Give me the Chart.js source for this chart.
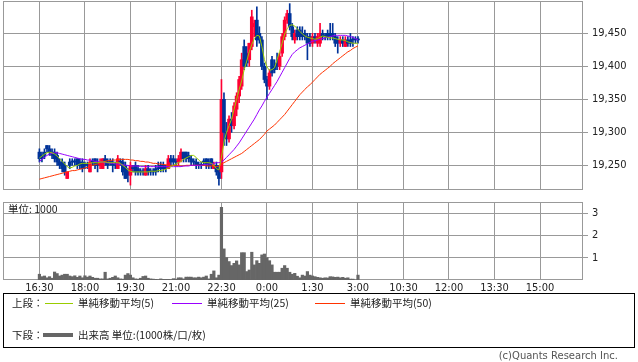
<!DOCTYPE html>
<html>
<head>
<meta charset="utf-8">
<script src="https://cdn.jsdelivr.net/npm/chart.js@4/dist/chart.umd.min.js"></script>
<style>
  body { margin: 0; width: 638px; height: 362px; overflow: hidden; background: #fff; position: relative;
         font-family: 'Noto Sans CJK JP', sans-serif; }
  canvas { position: absolute; left: 0; }
  #main { top: 0; }
  #vol { top: 195px; }
  .t { position: absolute; font-size: 10.5px; line-height: 12px; color: #222; white-space: nowrap; }
  .ln { position: absolute; height: 1px; }
  #box { position: absolute; left: 3px; top: 293px; width: 630px; height: 53px; border: 1px solid #000; }
  #copy { position: absolute; right: 20px; top: 350px; font-family: 'DejaVu Sans', sans-serif; font-size: 10px; color: #555; }
</style>
</head>
<body>
<canvas id="main" width="638" height="192"></canvas>
<canvas id="vol" width="638" height="100"></canvas>

<div class="t" style="left:8px;top:203px">単位: 1000</div>

<div id="box"></div>
<div class="t" style="left:12px;top:297px">上段：</div>
<div class="ln" style="left:45px;top:303px;width:28px;background:#99cc00"></div>
<div class="t" style="left:78px;top:297px">単純移動平均(5)</div>
<div class="ln" style="left:172px;top:303px;width:30px;background:#9900ff"></div>
<div class="t" style="left:207px;top:297px">単純移動平均(25)</div>
<div class="ln" style="left:315px;top:303px;width:30px;background:#ff3300"></div>
<div class="t" style="left:350px;top:297px">単純移動平均(50)</div>
<div class="t" style="left:12px;top:329px">下段：</div>
<div class="ln" style="left:43px;top:333px;width:30px;height:4px;background:#666"></div>
<div class="t" style="left:78px;top:329px">出来高 単位:(1000株/口/枚)</div>
<div id="copy">(c)Quants Research Inc.</div>

<script>
// 5-minute bars, slot 0 = 16:30 ... slot 126 = 3:00
const tickSlots = [0, 18, 36, 54, 72, 90, 108, 126, 144, 162, 180, 198];
const tickLabels = ['16:30', '18:00', '19:30', '21:00', '22:30', '0:00', '1:30', '3:00', '10:30', '12:00', '13:30', '15:00'];
const priceTicks = [19250, 19300, 19350, 19400, 19450];
const volTicks = [1, 2, 3];

const opens = [
  19270,19265,19270,19280,19275,19270,19270,19265,19255,19255,
  19250,19230,19255,19255,19255,19260,19255,19255,19250,19250,
  19240,19255,19260,19255,19250,19245,19260,19255,19255,19255,
  19250,19245,19255,19255,19250,19240,19235,19245,19250,19245,
  19240,19240,19235,19245,19240,19240,19245,19245,19250,19250,
  19245,19245,19260,19260,19255,19255,19260,19270,19270,19265,
  19260,19255,19255,19250,19250,19255,19260,19255,19260,19245,
  19250,19245,
  19240,19350,19300,19290,19320,19310,19335,19355,19370,19430,
  19420,19410,19430,19460,19470,19450,19440,19400,19380,19370,
  19410,19400,19405,19400,19420,19445,19470,19480,19460,19440,
  19455,19455,19450,19450,19445,19445,19435,19445,19435,19435,
  19450,19445,19450,19450,19450,19445,19440,19435,19440,19430,
  19440,19440,19440,19440,19440
];
const highs = [
  19275,19270,19275,19280,19280,19275,19275,19270,19260,19260,
  19255,19240,19260,19260,19260,19260,19260,19260,19255,19255,
  19260,19260,19260,19260,19260,19260,19265,19260,19260,19260,
  19255,19265,19260,19260,19255,19245,19255,19250,19255,19250,
  19245,19245,19250,19250,19245,19245,19250,19255,19255,19255,
  19250,19265,19265,19265,19260,19265,19275,19270,19270,19270,
  19265,19260,19260,19255,19255,19260,19260,19260,19260,19255,
  19255,19250,
  19380,19360,19315,19325,19330,19345,19360,19385,19420,19440,
  19430,19435,19485,19470,19490,19460,19445,19405,19385,19395,
  19415,19410,19420,19420,19450,19475,19485,19495,19465,19455,
  19460,19460,19460,19455,19450,19450,19450,19450,19450,19465,
  19455,19450,19455,19465,19465,19450,19445,19445,19445,19445,
  19445,19450,19445,19445,19445
];
const lows = [
  19255,19255,19260,19270,19265,19260,19255,19250,19245,19240,
  19235,19230,19245,19250,19250,19245,19245,19240,19245,19245,
  19240,19250,19245,19240,19245,19245,19250,19245,19250,19240,
  19245,19245,19250,19235,19230,19225,19220,19240,19235,19235,
  19235,19235,19235,19235,19235,19235,19235,19240,19240,19240,
  19240,19245,19250,19250,19250,19250,19255,19255,19255,19255,
  19250,19250,19245,19245,19245,19250,19245,19245,19245,19245,
  19235,19220,
  19230,19280,19280,19285,19300,19305,19325,19345,19365,19395,
  19400,19400,19425,19445,19430,19435,19395,19375,19350,19365,
  19385,19390,19395,19395,19415,19440,19465,19455,19440,19435,
  19440,19440,19440,19440,19410,19430,19430,19435,19430,19430,
  19440,19440,19440,19440,19440,19430,19420,19430,19430,19430,
  19430,19430,19430,19435,19435
];
const closes = [
  19260,19260,19265,19275,19270,19265,19260,19255,19250,19245,
  19240,19240,19250,19255,19255,19250,19250,19245,19250,19250,
  19255,19255,19250,19250,19255,19260,19255,19250,19255,19250,
  19250,19260,19255,19240,19230,19235,19250,19245,19240,19240,
  19240,19240,19245,19240,19240,19240,19240,19245,19245,19245,
  19245,19260,19255,19255,19255,19260,19270,19260,19260,19260,
  19255,19255,19250,19250,19250,19255,19250,19250,19250,19250,
  19240,19230,
  19350,19300,19290,19320,19310,19340,19355,19380,19410,19400,
  19405,19435,19475,19465,19440,19440,19400,19380,19370,19390,
  19390,19395,19400,19415,19445,19470,19480,19460,19445,19450,
  19445,19445,19445,19445,19435,19435,19445,19440,19445,19450,
  19445,19445,19445,19445,19445,19435,19435,19440,19435,19440,
  19435,19435,19440,19440,19440
];
const ma5 = [
  19261,19264,19267,19269,19270,19269,19267,19264,19260,19256,19252,19248,
  19246,19247,19249,19250,19252,19253,19253,19253,19253,
  19254,19254,19254,19255,19255,19255,19254,19254,19254,19254,19254,19253,
  19250,19247,19243,19241,19240,19240,19240,19240,19240,19240,
  19240,19241,19241,19241,19242,19242,19243,19244,
  19246,19248,19250,19252,19254,19256,19259,19261,19263,19265,
  19265,19262,19258,19255,19254,19254,19254,19253,19250,
  19245,19243,19262,
  19285,19300,19310,19320,19335,19350,19365,19378,
  19395,19408,19422,19433,19442,19447,19446,19430,19410,19399,
  19394,19395,19398,19410,19422,19435,19449,19457,19462,19463,
  19461,19457,19453,19449,19446,19444,19443,19442,19441,19442,
  19444,19446,19445,19444,19443,19443,19442,19441,19440,19440,
  19439,19437,19436,19435,19435,19435
];
const ma25 = [
  19256,19259,19262,19265,19267,19268,19269,19269,
  19268,19267,19266,19265,19264,19263,
  19262,19261,19260,19259,19259,19258,19258,19257,19256,19256,19255,
  19255,19254,19254,19253,19253,19252,19252,19251,19251,19250,19250,19249,19249,
  19249,19249,19248,19248,19248,19248,19248,19248,19248,19248,19248,19248,19248,19248,19248,19248,19248,19248,
  19248,19249,19249,19249,19250,19250,19250,19250,19250,19251,19251,19252,19252,19253,19254,19254,
  19255,19258,19262,19266,19270,19274,19279,19284,19290,
  19296,19302,19308,19314,19320,19327,19334,19340,19347,19353,
  19359,19365,19371,19377,19384,19391,19398,19405,19412,19418,
  19422,19425,19428,19430,19432,19434,19436,19438,19439,19440,
  19441,19442,19443,19444,19445,19446,19447,19447,19447,19447,
  19447,19446,19445,19444,19442,19440
];
const ma50 = [
  19229,19230,19231,19232,19233,19234,19235,19236,19237,19238,19239,19240,
  19241,19242,19242,19243,19244,19245,19246,19247,
  19249,19250,19251,19252,19254,19255,
  19256,19257,19257,19258,19258,19259,19259,19259,
  19259,19259,19258,19258,19257,19257,19256,19256,19255,19255,
  19254,19253,19253,19252,19252,19251,19251,
  19250,19250,19250,19250,19249,19249,19249,19250,19250,19250,19250,19250,19250,19250,19250,19249,19249,19249,19249,19248,19249,19252,
  19254,19256,19258,19260,19262,19264,19266,19268,
  19271,19274,19277,19280,19283,19286,19289,19293,19297,19302,
  19305,19308,19311,19315,19319,19323,19327,19332,19337,19342,
  19347,19352,19357,19361,19365,19369,19372,19376,19380,19384,
  19388,19391,19394,19397,19400,19404,19407,19410,19413,19416,
  19419,19422,19424,19427,19429,19431
];
const volumes = [
  0.26,0.15,0.18,0.10,0.15,0.08,0.36,0.29,0.18,0.22,
  0.26,0.26,0.18,0.15,0.19,0.12,0.18,0.10,0.19,0.13,
  0.18,0.12,0.08,0.08,0.05,0.05,0.35,0.05,0.08,0.12,
  0.18,0.10,0.05,0.04,0.22,0.29,0.22,0.10,0.05,0.04,
  0.08,0.16,0.18,0.08,0.05,0.04,0.03,0.02,0.05,0.03,
  0.03,0.03,0.02,0.06,0.04,0.10,0.10,0.05,0.13,0.13,
  0.13,0.10,0.10,0.13,0.10,0.13,0.18,0.05,0.26,0.41,
  0.10,0.22,3.27,1.40,1.01,0.83,0.65,0.75,0.86,0.68,
  1.23,1.23,0.38,0.45,1.25,0.68,0.87,0.75,1.13,1.17,
  1.01,0.87,0.68,0.35,0.35,0.35,0.53,0.65,0.53,0.35,
  0.26,0.30,0.17,0.10,0.22,0.18,0.38,0.22,0.18,0.15,
  0.12,0.10,0.08,0.10,0.09,0.15,0.14,0.12,0.13,0.10,
  0.12,0.08,0.10,0.04,0.04,0.00,0.22
];

const UP = '#ff0033', DOWN = '#003399', GRID = '#999999';
const tickFont = { family: "'DejaVu Sans Condensed', 'DejaVu Sans', sans-serif", size: 11 };
const candleColors = closes.map((c, i) => c > opens[i] ? UP : DOWN);

// gray frame round the plot area
const frame = {
  id: 'frame',
  beforeDatasetsDraw(chart) {
    const a = chart.chartArea, ctx = chart.ctx;
    ctx.save();
    ctx.strokeStyle = GRID;
    ctx.lineWidth = 1;
    ctx.strokeRect(a.left + 0.5, a.top + 0.5, a.right - a.left - 1, a.bottom - a.top - 1);
    ctx.restore();
  }
};

function timeAxis(showLabels) {
  return {
    type: 'linear', min: -14.4, max: 215, offset: false,
    afterBuildTicks: s => { s.ticks = tickSlots.map(v => ({ value: v })); },
    afterFit: s => { s.height = showLabels ? 15 : 0; s.paddingLeft = 0; s.paddingRight = 0; },
    ticks: {
      display: showLabels, autoSkip: false, maxRotation: 0, padding: 2,
      color: '#222', font: tickFont,
      callback: v => tickLabels[tickSlots.indexOf(v)]
    },
    grid: { color: GRID, drawTicks: false, offset: false },
    border: { display: false }
  };
}

function rightAxis(min, max, ticks, fmt) {
  return {
    position: 'right', min: min, max: max,
    afterBuildTicks: s => { s.ticks = ticks.map(v => ({ value: v })); },
    afterFit: s => { s.width = 55; s.paddingTop = 0; s.paddingBottom = 0; },
    ticks: { color: '#222', font: tickFont, padding: 4, callback: fmt },
    grid: { color: GRID, tickLength: 5 },
    border: { display: false }
  };
}

const maLine = (values, color, order) => ({
  type: 'line',
  data: values.map((v, i) => ({ x: i, y: v })),
  borderColor: color, borderWidth: 1, pointRadius: 0, tension: 0, order: order
});

new Chart(document.getElementById('main'), {
  type: 'bar',
  data: {
    datasets: [
      maLine(ma5, '#99cc00', 0),
      maLine(ma25, '#9900ff', 1),
      maLine(ma50, '#ff3300', 2),
      {
        data: opens.map((o, i) => ({ x: i, y: [Math.min(o, closes[i]), Math.max(o, closes[i])] })),
        backgroundColor: candleColors, barThickness: 3, minBarLength: 1, grouped: false, order: 3
      },
      {
        data: lows.map((l, i) => ({ x: i, y: [l, highs[i]] })),
        backgroundColor: candleColors, barThickness: 1, grouped: false, order: 4
      }
    ]
  },
  options: {
    responsive: false, animation: false,
    layout: { padding: { left: 3, top: 1, right: 0, bottom: 2 } },
    plugins: { legend: { display: false }, tooltip: { enabled: false } },
    scales: {
      x: timeAxis(false),
      y: rightAxis(19212.6, 19499, priceTicks, v => v.toLocaleString('en-US'))
    }
  },
  plugins: [frame]
});

new Chart(document.getElementById('vol'), {
  type: 'bar',
  data: {
    datasets: [{
      data: volumes.map((v, i) => ({ x: i, y: v })),
      backgroundColor: '#666666', barPercentage: 1, categoryPercentage: 1
    }]
  },
  options: {
    responsive: false, animation: false,
    layout: { padding: { left: 3, top: 7, right: 0, bottom: 0 } },
    plugins: { legend: { display: false }, tooltip: { enabled: false } },
    scales: {
      x: timeAxis(true),
      y: rightAxis(0, 3.51, volTicks, v => String(v))
    }
  },
  plugins: [frame]
});
</script>
</body>
</html>
